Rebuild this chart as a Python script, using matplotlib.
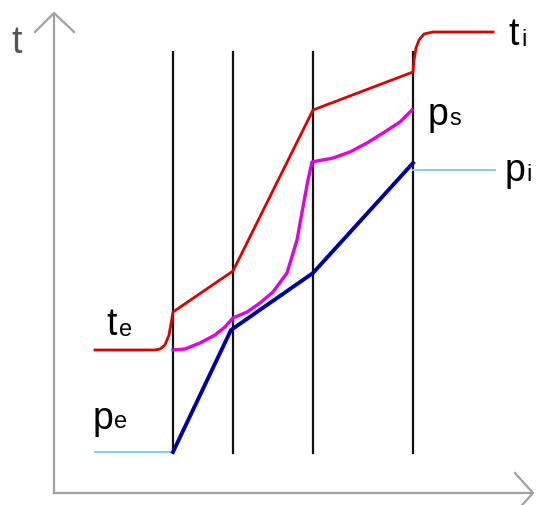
import matplotlib.pyplot as plt

# everything is in picture pixel coordinates (y grows downward)
W, H = 539, 505

wall_x = [173, 233, 313, 413]
wall_top, wall_bottom = 52, 453

# temperature t (red)
t_x = [95, 155, 160, 165, 169, 172, 173, 233, 313, 413, 414, 416, 419, 424, 433, 493]
t_y = [350, 350, 349, 345, 335, 318, 312, 271, 110, 72, 60, 48, 40, 34, 32, 32]

# saturation pressure ps (magenta)
ps_x = [173, 185, 200, 215, 225, 233, 247, 260, 273, 287, 297, 303, 308, 312,
        333, 350, 367, 383, 400, 412]
ps_y = [350, 349, 343, 335, 327, 318, 312, 303, 292, 273, 240, 207, 180, 162,
        158, 152, 143, 133, 122, 110]

# partial pressure p (dark blue inside wall, light blue outside)
p_x = [173, 231, 313, 413]
p_y = [452, 330, 273, 163]
pe_x, pe_y = [95, 173], [452, 452]
pi_x, pi_y = [413, 495], [170, 170]

fig = plt.figure(figsize=(W / 100, H / 100), dpi=100)
ax = fig.add_axes([0, 0, 1, 1])
ax.set_xlim(0, W)
ax.set_ylim(H, 0)
ax.axis('off')

axis_col = '#a0a0a0'
ax.plot([54, 54], [493, 14], color=axis_col, lw=1.6)
ax.plot([54, 532], [493, 493], color=axis_col, lw=1.6)
ax.plot([35, 54, 74], [32, 13, 32], color=axis_col, lw=1.6)
ax.plot([515, 533, 515], [473, 493, 513], color=axis_col, lw=1.6)

for x in wall_x:
    ax.plot([x, x], [wall_top, wall_bottom], color='#111111', lw=1.6)

ax.plot(pe_x, pe_y, color='#80d0f0', lw=1.4)
ax.plot(pi_x, pi_y, color='#80d0f0', lw=1.4)
ax.plot(p_x, p_y, color='#0000a0', lw=2.8, solid_joinstyle='round')
ax.plot(ps_x, ps_y, color='#e000e0', lw=2.4, solid_joinstyle='round')
ax.plot(t_x, t_y, color='#dd0000', lw=2.0, solid_joinstyle='round')

font = 'Liberation Sans'
big, small = 27, 17
ax.text(11, 53, 't', fontsize=big, color='#555555', family=font)
ax.text(106, 335, 't', fontsize=big, family=font)
ax.text(119, 336, 'e', fontsize=small, family=font)
ax.text(93, 429, 'p', fontsize=big, family=font)
ax.text(114, 428, 'e', fontsize=small, family=font)
ax.text(508, 45, 't', fontsize=big, family=font)
ax.text(521, 46, 'i', fontsize=small, family=font)
ax.text(428, 125, 'p', fontsize=big, family=font)
ax.text(449, 125, 's', fontsize=small, family=font)
ax.text(505, 181, 'p', fontsize=big, family=font)
ax.text(526, 181, 'i', fontsize=small, family=font)

fig.savefig('out.png', dpi=100)
